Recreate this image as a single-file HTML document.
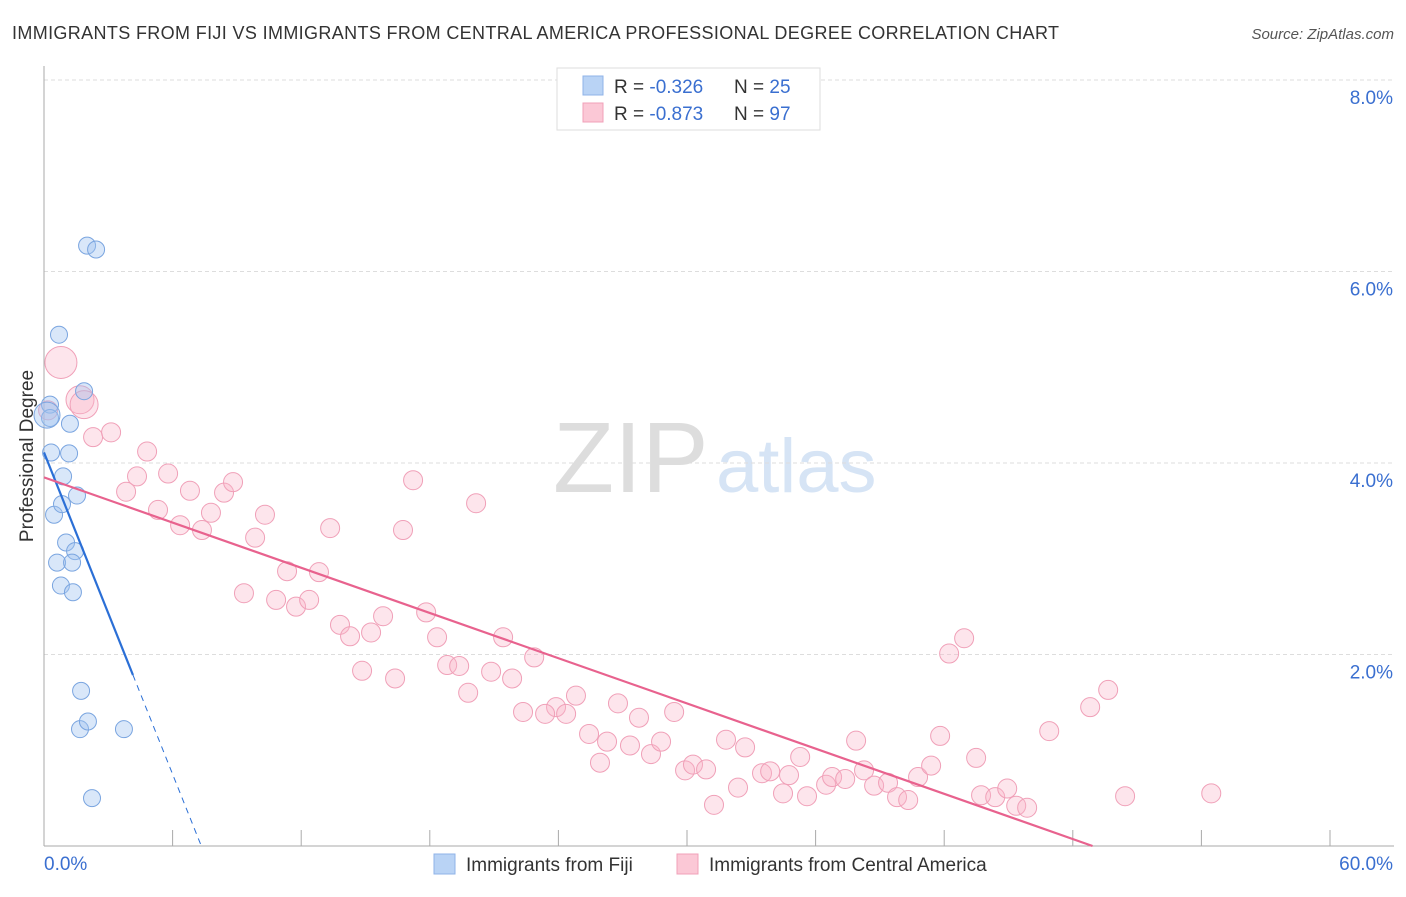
<!DOCTYPE html>
<html><head><meta charset="utf-8"><style>
body{margin:0;background:#fff;font-family:"Liberation Sans",sans-serif;}
svg text{font-family:"Liberation Sans",sans-serif;}
</style></head><body>
<svg id="chart" width="1406" height="892" viewBox="0 0 1406 892">
<text x="12" y="39" font-size="18" fill="#333" textLength="1047" lengthAdjust="spacing">IMMIGRANTS FROM FIJI VS IMMIGRANTS FROM CENTRAL AMERICA PROFESSIONAL DEGREE CORRELATION CHART</text>
<text x="1394" y="39" font-size="15" fill="#555" text-anchor="end" font-style="italic">Source: ZipAtlas.com</text>
<g>
<text x="553" y="492" font-size="100" fill="#ddd" font-family="Liberation Serif,serif">ZIP</text>
<text x="716" y="492" font-size="76" fill="#d6e4f5">atlas</text>
</g>
<g id="grid"></g>
<g id="axes"></g>
<g id="marks"></g>
<text transform="translate(33,456) rotate(-90)" font-size="19" fill="#333" text-anchor="middle">Professional Degree</text>
<g>
<rect x="557" y="68" width="263" height="62" fill="#fff" stroke="#ddd"/>
<rect x="583" y="76" width="20" height="19" fill="#b9d3f5" stroke="#8fb3e8"/>
<rect x="583" y="103" width="20" height="19" fill="#fbc8d6" stroke="#f0a0b8"/>
<text x="614" y="93" font-size="19" fill="#333">R = <tspan fill="#3a6fd0">-0.326</tspan></text>
<text x="734" y="93" font-size="19" fill="#333">N = <tspan fill="#3a6fd0">25</tspan></text>
<text x="614" y="120" font-size="19" fill="#333">R = <tspan fill="#3a6fd0">-0.873</tspan></text>
<text x="734" y="120" font-size="19" fill="#333">N = <tspan fill="#3a6fd0">97</tspan></text>
</g>
<g>
<rect x="434" y="854" width="21" height="20" fill="#b9d3f5" stroke="#8fb3e8"/>
<text x="466" y="871" font-size="19" fill="#333">Immigrants from Fiji</text>
<rect x="677" y="854" width="21" height="20" fill="#fbc8d6" stroke="#f0a0b8"/>
<text x="709" y="871" font-size="19" fill="#333">Immigrants from Central America</text>
</g>
</svg>
<script>
const yTicks=[2,4,6,8];
const yTickLabels=["2.0%","4.0%","6.0%","8.0%"];
const xTicks=[0,6,12,18,24,30,36,42,48,54,60];
const xTickLabels=["0.0%","60.0%"];
const fijiX=[2.01,2.43,0.70,1.87,0.28,0.28,1.21,0.33,1.17,0.89,1.54,0.47,0.84,1.03,1.45,0.61,1.31,0.79,1.35,1.73,1.68,2.05,3.73,2.24,0.14];
const fijiY=[6.27,6.23,5.34,4.75,4.61,4.47,4.41,4.11,4.10,3.86,3.66,3.46,3.57,3.17,3.08,2.96,2.96,2.72,2.65,1.62,1.22,1.30,1.22,0.50,4.50];
const camX=[0.79,1.68,1.87,0.19,2.29,3.13,4.81,4.34,3.83,5.79,6.81,5.32,6.35,7.37,7.79,8.40,8.82,10.31,9.85,13.35,17.22,20.16,16.75,9.33,11.34,12.83,10.83,11.76,12.37,13.81,14.28,15.26,15.82,17.83,18.34,14.84,16.38,18.81,19.37,19.79,20.86,21.42,21.84,22.87,22.35,23.89,23.38,24.36,24.82,25.43,25.94,26.27,26.78,27.34,27.76,28.32,28.79,29.40,29.91,30.28,30.89,31.26,31.82,32.38,32.71,33.50,33.88,34.48,34.76,35.28,35.60,36.49,36.77,37.38,37.89,38.26,38.73,39.38,39.80,40.32,40.78,41.39,41.81,42.23,42.93,43.49,43.72,44.38,44.94,45.36,45.87,46.90,48.81,49.65,50.44,54.46];
const camY=[5.05,4.66,4.61,4.55,4.27,4.32,4.12,3.86,3.70,3.89,3.71,3.51,3.35,3.30,3.48,3.69,3.80,3.46,3.22,3.32,3.82,3.58,3.30,2.64,2.87,2.86,2.57,2.50,2.57,2.31,2.19,2.23,2.40,2.44,2.18,1.83,1.75,1.89,1.88,1.60,1.82,2.18,1.75,1.97,1.40,1.45,1.38,1.38,1.57,1.17,0.87,1.09,1.49,1.05,1.34,0.96,1.09,1.40,0.79,0.85,0.80,0.43,1.11,0.61,1.03,0.76,0.78,0.55,0.74,0.93,0.52,0.64,0.72,0.70,1.10,0.79,0.63,0.66,0.51,0.48,0.72,0.84,1.15,2.01,2.17,0.92,0.53,0.51,0.60,0.42,0.40,1.20,1.45,1.63,0.52,0.55];
const fijiFit=[4.11,-0.56];
const camFit=[3.85,-0.0787];
const X0=44,X1=1330,Y0=846,Y8=80;
function sx(v){return X0+(X1-X0)*v/60;}
function sy(v){return Y0-(Y0-Y8)*v/8;}
const NS="http://www.w3.org/2000/svg";
function mk(tag,attrs,parent){const e=document.createElementNS(NS,tag);for(const k in attrs)e.setAttribute(k,attrs[k]);parent.appendChild(e);return e;}
const grid=document.getElementById('grid'),axes=document.getElementById('axes'),marks=document.getElementById('marks');
yTicks.forEach((t,i)=>{
 const l=mk('line',{x1:X0,x2:1394,y1:sy(t),y2:sy(t),stroke:'#ddd','stroke-dasharray':'4,3'},grid);
 
 
 const tx=mk('text',{x:1393,y:sy(t)+24,'font-size':19,fill:'#3a6fd0','text-anchor':'end'},axes);
 tx.textContent=yTickLabels[i];
 
 
});
const ya=mk('line',{x1:X0,x2:X0,y1:66,y2:Y0,stroke:'#aaa'},axes);


const xa=mk('line',{x1:X0,x2:1394,y1:Y0,y2:Y0,stroke:'#aaa'},axes);


xTicks.forEach(t=>{
 const l=mk('line',{x1:sx(t),x2:sx(t),y1:Y0,y2:Y0-16,stroke:'#aaa'},axes);
 
 
});
const xl0=mk('text',{x:44,y:870,'font-size':19,fill:'#3a6fd0'},axes);
xl0.textContent=xTickLabels[0];


const xl1=mk('text',{x:1393,y:870,'font-size':19,fill:'#3a6fd0','text-anchor':'end'},axes);
xl1.textContent=xTickLabels[1];


camX.forEach((x,i)=>{
 const c=mk('circle',{cx:sx(x),cy:sy(camY[i]),r:i<3?(i==0?16:14):9.5,fill:'rgba(248,180,200,0.35)',stroke:'#f0a0b8','stroke-width':1},marks);
 
 
});
fijiX.forEach((x,i)=>{
 const c=mk('circle',{cx:sx(x),cy:sy(fijiY[i]),r:i==24?13:8.5,fill:'rgba(160,195,240,0.4)',stroke:'#7aa5e0','stroke-width':1},marks);
 
 
});
const fEnd=-fijiFit[0]/fijiFit[1], fSolid=4.15;
const fl=mk('line',{x1:sx(0),y1:sy(fijiFit[0]),x2:sx(fSolid),y2:sy(fijiFit[0]+fijiFit[1]*fSolid),stroke:'#2b6fd6','stroke-width':2.2},marks);


const fd=mk('line',{x1:sx(fSolid),y1:sy(fijiFit[0]+fijiFit[1]*fSolid),x2:sx(fEnd),y2:sy(0),stroke:'#2b6fd6','stroke-width':1,'stroke-dasharray':'6,5'},marks);


const cEnd=-camFit[0]/camFit[1];
const cl=mk('line',{x1:sx(0),y1:sy(camFit[0]),x2:sx(cEnd),y2:sy(0),stroke:'#e8628e','stroke-width':2.2},marks);


</script>
</body></html>
